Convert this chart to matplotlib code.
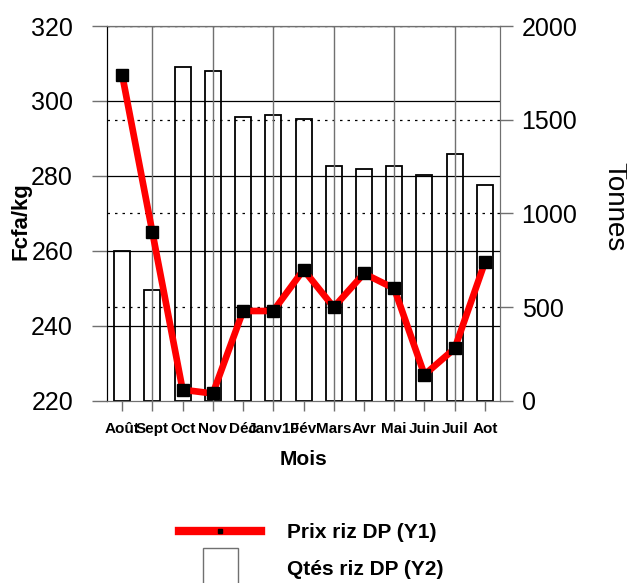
import matplotlib
matplotlib.use("Agg")
import matplotlib.pyplot as plt
import matplotlib.patches as mpatches
from matplotlib.lines import Line2D
from matplotlib.legend_handler import HandlerPatch
import numpy as np

plt.rcParams["font.family"] = ["Liberation Sans", "DejaVu Sans"]

# Data
mois = ["Août", "Sept", "Oct", "Nov", "Déc", "Janv10", "Fév",
        "Mars", "Avr", "Mai", "Juin", "Juil", "Aot"]
prix = [307, 265, 223, 222, 244, 244, 255, 245, 254, 250, 227, 234, 257]
qtes = [800, 590, 1780, 1760, 1515, 1525, 1505, 1255, 1235, 1255, 1205, 1315, 1150]

GRID_GREY = "#707070"

fig = plt.figure(figsize=(6.27, 5.83), dpi=100)
ax1 = fig.add_axes([0.1707, 0.3122, 0.6268, 0.6432])
ax2 = ax1.twinx()

x = np.arange(len(mois))

# bars (right axis), transparent so the grid shows through
ax2.bar(x, qtes, width=0.53, facecolor="none", edgecolor="black", linewidth=1.3,
        zorder=3)
ax2.set_ylim(0, 2000)
ax2.set_yticks([0, 500, 1000, 1500, 2000])
for v in [500, 1000, 1500, 2000]:
    ax2.axhline(v, color="black", linestyle=(0, (2, 4)), linewidth=0.9, zorder=1)

# price line (left axis) on top
ax1.set_zorder(ax2.get_zorder() + 1)
ax1.patch.set_visible(False)
ax1.plot(x, prix, color="#ff0000", linewidth=4.8, marker="s", markersize=8,
         markerfacecolor="black", markeredgecolor="black", zorder=4)
ax1.set_ylim(220, 320)
ax1.set_yticks(range(220, 321, 20))
ax1.set_xlim(-0.5, 12.5)
ax1.set_xticks(x)
ax1.set_xticklabels(mois, fontsize=11, fontweight="bold")
for v in range(240, 321, 20):
    ax1.axhline(v, color="black", linewidth=0.9, zorder=1)
for i in range(1, len(mois), 2):
    ax1.axvline(i, color=GRID_GREY, linewidth=1.0, zorder=1)

ax1.tick_params(axis="y", direction="out", length=10.5, width=1, labelsize=18,
                color=GRID_GREY, pad=14)
ax1.tick_params(axis="x", direction="out", length=7, width=1, color=GRID_GREY,
                pad=8)
ax2.tick_params(axis="y", direction="out", length=9.5, width=1, labelsize=18,
                color=GRID_GREY, pad=6)

for ax in (ax1, ax2):
    for side in ("top", "right", "bottom"):
        ax.spines[side].set_color(GRID_GREY)
    ax.spines["left"].set_color("black")

ax1.set_ylabel("Fcfa/kg", fontsize=16, fontweight="bold")
ax1.yaxis.set_label_coords(-0.191, 0.48)
ax2.set_ylabel("Tonnes", fontsize=20, rotation=-90)
ax2.yaxis.set_label_coords(1.323, 0.517)
ax1.set_xlabel("Mois", fontsize=15, fontweight="bold", labelpad=10)


def narrow_box(legend, orig_handle, xdescent, ydescent, width, height, fontsize):
    return mpatches.Rectangle((width / 2 - 12.5 - xdescent, -ydescent - 9),
                              25, height + 18)


line_handle = Line2D([], [], color="#ff0000", linewidth=6, marker="s",
                     markersize=3.5, markerfacecolor="black",
                     markeredgecolor="black")
box_handle = mpatches.Patch(facecolor="white", edgecolor=GRID_GREY, linewidth=1)
leg = fig.legend([line_handle, box_handle], ["Prix riz DP (Y1)", "Qtés riz DP (Y2)"],
                 loc="upper left", bbox_to_anchor=(0.256, 0.135),
                 frameon=False, handlelength=3.94, handletextpad=1.25,
                 labelspacing=0.88,
                 prop={"size": 15, "weight": "bold"},
                 handler_map={mpatches.Patch: HandlerPatch(patch_func=narrow_box)})

fig.savefig("out.png", dpi=100)
